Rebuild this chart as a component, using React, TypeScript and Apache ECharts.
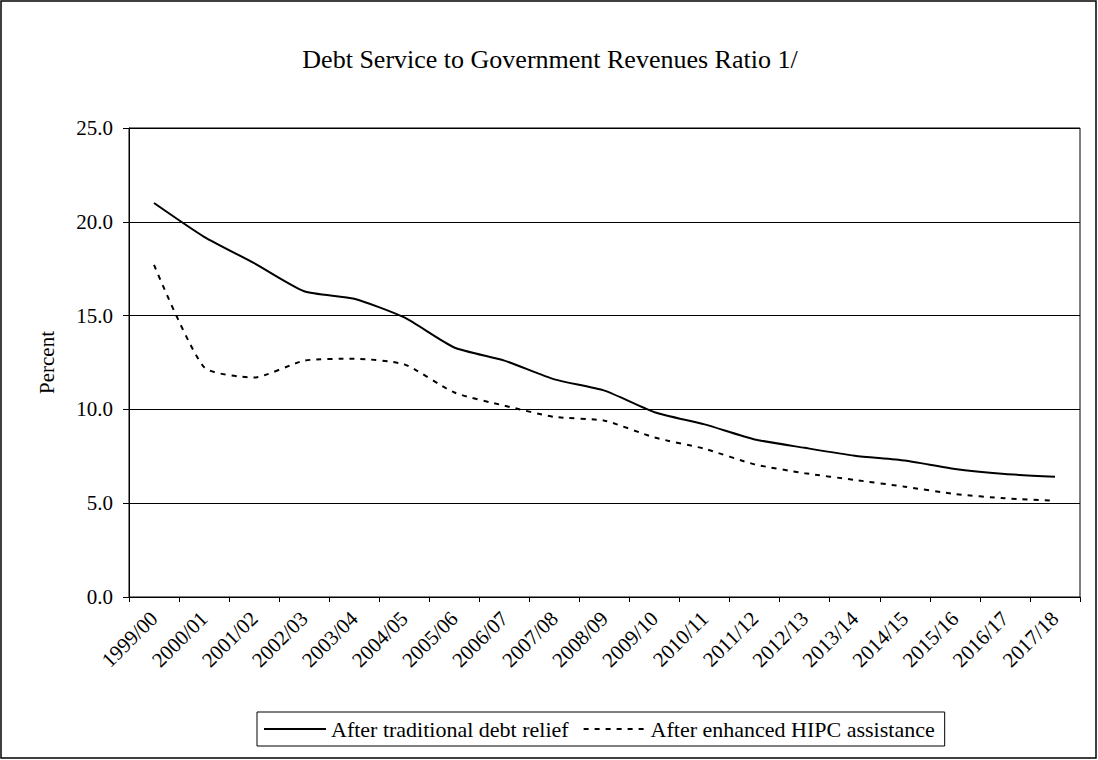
import React, { useEffect, useRef } from "react";
import * as echarts from "echarts";

const categories = [
  "1999/00", "2000/01", "2001/02", "2002/03", "2003/04", "2004/05", "2005/06",
  "2006/07", "2007/08", "2008/09", "2009/10", "2010/11", "2011/12", "2012/13",
  "2013/14", "2014/15", "2015/16", "2016/17", "2017/18",
];
const traditional = [21.0, 19.2, 17.8, 16.3, 15.9, 14.9, 13.3, 12.6, 11.6, 11.0, 9.85, 9.2, 8.4, 7.95, 7.53, 7.27, 6.82, 6.56, 6.41];
const enhanced = [17.7, 12.25, 11.7, 12.6, 12.7, 12.4, 10.9, 10.2, 9.6, 9.4, 8.5, 7.9, 7.07, 6.6, 6.24, 5.88, 5.49, 5.26, 5.13];
const seriesNames = ["After traditional debt relief", "After enhanced HIPC assistance"];
const titleText = "Debt Service to Government Revenues Ratio 1/";

const FONT = "'Liberation Serif', 'Times New Roman', serif";

export default function App() {
  const ref = useRef<HTMLDivElement>(null);
  useEffect(() => {
    document.body.style.margin = "0";
    const chart = echarts.init(ref.current!, null, { renderer: "svg" });
    chart.setOption({
      animation: false,
      backgroundColor: "#fff",
      textStyle: { fontFamily: FONT, color: "#000" },
      title: {
        text: titleText,
        left: 550,
        top: 46,
        textAlign: "center",
        padding: 0,
        textStyle: { fontFamily: FONT, fontSize: 26, fontWeight: "normal", color: "#000" },
      },
      graphic: [
        {
          type: "rect",
          shape: { x: 1, y: 1, width: 1095, height: 757 },
          style: { fill: "none", stroke: "#000", lineWidth: 1.5 },
          z: 100,
        },
      ],
      grid: {
        left: 129,
        right: 18,
        top: 128,
        bottom: 163,
        show: true,
        borderColor: "#000",
        borderWidth: 1,
      },
      legend: {
        left: 257,
        top: 712,
        data: seriesNames,
        itemWidth: 62,
        itemHeight: 12,
        itemGap: 14,
        padding: [6, 10, 6, 6],
        borderColor: "#000",
        borderWidth: 1,
        itemStyle: { opacity: 0 },
        lineStyle: { opacity: 1 },
        textStyle: { fontFamily: FONT, fontSize: 22, color: "#000" },
      },
      xAxis: {
        type: "category",
        data: categories,
        boundaryGap: true,
        axisLine: { lineStyle: { color: "#000", width: 1 } },
        axisTick: { show: true, length: 5, lineStyle: { color: "#000" } },
        axisLabel: {
          rotate: 45,
          margin: 18,
          fontFamily: FONT,
          fontSize: 21,
          color: "#000",
          interval: 0,
        },
      },
      yAxis: {
        type: "value",
        min: 0,
        max: 25,
        interval: 5,
        name: "Percent",
        nameLocation: "middle",
        nameGap: 72,
        nameRotate: 90,
        nameTextStyle: { fontFamily: FONT, fontSize: 21, color: "#000" },
        axisLine: { show: true, lineStyle: { color: "#000", width: 1 } },
        axisTick: { show: true, length: 6, lineStyle: { color: "#000" } },
        axisLabel: {
          formatter: (v: number) => v.toFixed(1),
          fontFamily: FONT,
          fontSize: 21,
          color: "#000",
          margin: 16,
        },
        splitLine: { show: true, lineStyle: { color: "#000", width: 1 } },
      },
      series: [
        {
          name: seriesNames[0],
          type: "line",
          data: traditional,
          smooth: 0.2,
          symbol: "none",
          lineStyle: { color: "#000", width: 2, type: "solid" },
          itemStyle: { color: "#000" },
        },
        {
          name: seriesNames[1],
          type: "line",
          data: enhanced,
          smooth: 0.2,
          symbol: "none",
          lineStyle: { color: "#000", width: 2, type: [5, 6] },
          itemStyle: { color: "#000" },
        },
      ],
    });
    return () => chart.dispose();
  }, []);
  return <div ref={ref} style={{ width: 1098, height: 760, position: "absolute", left: 0, top: 0 }} />;
}
